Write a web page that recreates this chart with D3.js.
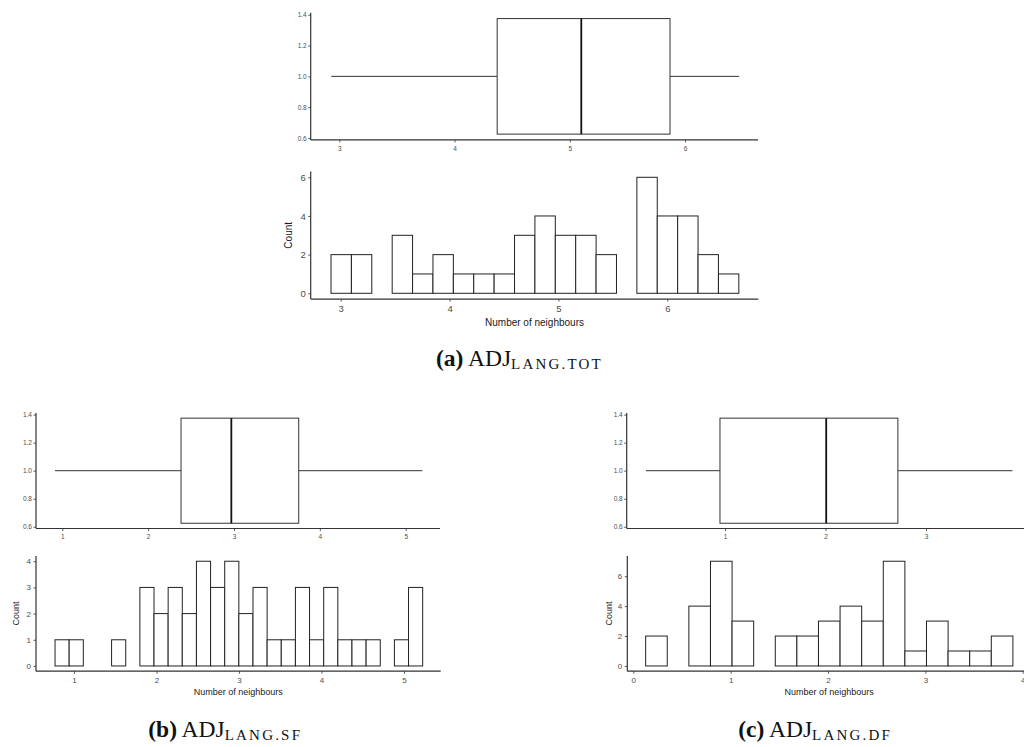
<!DOCTYPE html>
<html>
<head>
<meta charset="utf-8">
<script src="https://cdn.jsdelivr.net/npm/d3@7"></script>
<style>
  html, body { margin: 0; padding: 0; background: #fff; }
  svg { display: block; }
</style>
</head>
<body>
<svg id="chart" width="1024" height="747"></svg>
<script>
// ---------------- DATA ----------------
// Box statistics: [lower whisker, Q1, median, Q3, upper whisker]
const boxStatsA = [2.93, 4.37, 5.10, 5.87, 6.47];
const boxStatsB = [0.915, 2.383, 2.969, 3.754, 5.194];
const boxStatsC = [0.214, 0.95, 2.007, 2.72, 3.86];

// Histogram counts per bin
const histCountsA = [2, 2, 0, 3, 1, 2, 1, 1, 1, 3, 4, 3, 3, 2, 0, 6, 4, 4, 2, 1];
const histCountsB = [1, 1, 0, 0, 1, 0, 3, 2, 3, 2, 4, 3, 4, 2, 3, 1, 1, 3, 1, 3, 1, 1, 1, 0, 1, 3];
const histCountsC = [2, 0, 4, 7, 3, 0, 2, 2, 3, 4, 3, 7, 1, 3, 1, 1, 2];

// Histogram bin start and width (in data units)
const histBinStartA = 2.911, histBinWidthA = 0.1873;
const histBinStartB = 0.770, histBinWidthB = 0.1714;
const histBinStartC = 0.127, histBinWidthC = 0.2219;

// Tick labels
const boxYTicks = [0.6, 0.8, 1.0, 1.2, 1.4];
const boxXTicksA = [3, 4, 5, 6];
const boxXTicksB = [1, 2, 3, 4, 5];
const boxXTicksC = [1, 2, 3];
const histXTicksA = [3, 4, 5, 6];
const histXTicksB = [1, 2, 3, 4, 5];
const histXTicksC = [0, 1, 2, 3, 4];
const histYTicksA = [0, 2, 4, 6];
const histYTicksB = [0, 1, 2, 3, 4];
const histYTicksC = [0, 2, 4, 6];

const boxYDomain = [0.5875, 1.4125];
const histYDomainA = [-0.3, 6.3];
const histYDomainB = [-0.2, 4.2];
const histYDomainC = [-0.35, 7.35];

const xTitle = "Number of neighbours";
const yTitle = "Count";
const captions = [
  { tag: "(a)", main: "ADJ", sub: "LANG.TOT" },
  { tag: "(b)", main: "ADJ", sub: "LANG.SF" },
  { tag: "(c)", main: "ADJ", sub: "LANG.DF" }
];

// ---------------- LAYOUT ----------------
const svg = d3.select("#chart");
const AXIS_COL = "#333333";
const TICK_TXT = "#4d4d4d";
const SANS = "'Liberation Sans', Arial, sans-serif";
const SERIF = "'Liberation Serif', 'Times New Roman', serif";

// x scale anchored on two tick positions (pixels) -> domain extended to panel edges
function xScaleFrom(v0, p0, v1, p1, left, right) {
  const s = d3.scaleLinear().domain([v0, v1]).range([p0, p1]);
  return d3.scaleLinear().domain([s.invert(left), s.invert(right)]).range([left, right]);
}

function drawAxes(g, x, y, L, R, T, B, xTicks, yTicks, fs, yfmt, pad) {
  g.append("line").attr("x1", L).attr("x2", R).attr("y1", B).attr("y2", B)
    .attr("stroke", AXIS_COL).attr("stroke-width", 1.2);
  g.append("line").attr("x1", L).attr("x2", L).attr("y1", T).attr("y2", B)
    .attr("stroke", AXIS_COL).attr("stroke-width", 1.2);

  const xa = g.append("g").attr("transform", `translate(0,${B})`)
    .call(d3.axisBottom(x).tickValues(xTicks).tickSize(2.5).tickPadding(pad.x).tickFormat(d3.format("d")));
  const ya = g.append("g").attr("transform", `translate(${L},0)`)
    .call(d3.axisLeft(y).tickValues(yTicks).tickSize(2.5).tickPadding(pad.y).tickFormat(yfmt));
  [xa, ya].forEach(a => {
    a.select(".domain").remove();
    a.selectAll(".tick line").attr("stroke", AXIS_COL).attr("stroke-width", 0.8);
    a.selectAll(".tick text").attr("fill", TICK_TXT).style("font-family", SANS).style("font-size", fs + "px");
  });
}

function drawBox(p, stats) {
  const g = svg.append("g");
  const x = xScaleFrom(p.t0, p.p0, p.t1, p.p1, p.L, p.R);
  const y = d3.scaleLinear().domain(boxYDomain).range([p.B, p.T]);
  drawAxes(g, x, y, p.L, p.R, p.T, p.B, p.xTicks, boxYTicks, p.fs, d3.format(".1f"), { x: 3.5, y: 1.5 });
  const [lw, q1, med, q3, uw] = stats;
  const ym = y(1.0);
  g.append("line").attr("x1", x(lw)).attr("x2", x(q1)).attr("y1", ym).attr("y2", ym)
    .attr("stroke", AXIS_COL).attr("stroke-width", 1);
  g.append("line").attr("x1", x(q3)).attr("x2", x(uw)).attr("y1", ym).attr("y2", ym)
    .attr("stroke", AXIS_COL).attr("stroke-width", 1);
  g.append("rect").attr("x", x(q1)).attr("y", y(1.375))
    .attr("width", x(q3) - x(q1)).attr("height", y(0.625) - y(1.375))
    .attr("fill", "#fff").attr("stroke", AXIS_COL).attr("stroke-width", 1);
  g.append("line").attr("x1", x(med)).attr("x2", x(med)).attr("y1", y(1.375)).attr("y2", y(0.625))
    .attr("stroke", "#111").attr("stroke-width", 1.8);
}

function drawHist(p, counts, start, width) {
  const g = svg.append("g");
  const x = xScaleFrom(p.t0, p.p0, p.t1, p.p1, p.L, p.R);
  const y = d3.scaleLinear().domain(p.yDom).range([p.B, p.T]);
  drawAxes(g, x, y, p.L, p.R, p.T, p.B, p.xTicks, p.yTicks, p.fs, d3.format("d"), { x: 3.5, y: 2.5 });
  const bins = counts.map((c, i) => ({ x0: start + i * width, x1: start + (i + 1) * width, c }));
  g.selectAll("rect.bar").data(bins).join("rect").attr("class", "bar")
    .attr("x", d => x(d.x0)).attr("y", d => y(d.c))
    .attr("width", d => x(d.x1) - x(d.x0)).attr("height", d => y(0) - y(d.c))
    .attr("fill", "#fff").attr("stroke", "#222").attr("stroke-width", 1);
  g.append("text").attr("x", (p.L + p.R) / 2 + p.titleDx).attr("y", p.titleY)
    .attr("text-anchor", "middle").style("font-family", SANS).style("font-size", p.tfs + "px")
    .attr("fill", "#1a1a1a").text(xTitle);
  g.append("text").attr("transform", `translate(${p.countX},${(p.T + p.B) / 2}) rotate(-90)`)
    .attr("text-anchor", "middle").style("font-family", SANS).style("font-size", p.tfs + "px")
    .attr("fill", "#1a1a1a").text(yTitle);
}

function drawCaption(c, xPos, yPos) {
  const t = svg.append("text").attr("x", xPos).attr("y", yPos)
    .style("font-family", SERIF).style("font-size", "23.5px").attr("fill", "#111");
  t.append("tspan").style("font-weight", "bold").text(c.tag);
  t.append("tspan").text(" " + c.main);
  t.append("tspan").attr("dy", 3).style("font-size", "15px").style("letter-spacing", "2.2px").text(c.sub);
}

// Panel (a)
drawBox({ L: 310.7, R: 758, T: 12.8, B: 139.9, t0: 3, p0: 339.3, t1: 6, p1: 685, xTicks: boxXTicksA, fs: 6.5 }, boxStatsA);
drawHist({ L: 310.7, R: 758.3, T: 171.5, B: 299.1, t0: 3, p0: 340.7, t1: 6, p1: 667.3,
  xTicks: histXTicksA, yTicks: histYTicksA, yDom: histYDomainA, fs: 9.5, tfs: 10,
  titleY: 325.5, titleDx: 0, countX: 292 }, histCountsA, histBinStartA, histBinWidthA);

// Panel (b)
drawBox({ L: 36, R: 440, T: 412.9, B: 528.5, t0: 1, p0: 62.3, t1: 5, p1: 405.7, xTicks: boxXTicksB, fs: 6.5 }, boxStatsB);
drawHist({ L: 36, R: 440.7, T: 556, B: 671.2, t0: 1, p0: 74, t1: 5, p1: 404,
  xTicks: histXTicksB, yTicks: histYTicksB, yDom: histYDomainB, fs: 8, tfs: 9,
  titleY: 694.8, titleDx: 0, countX: 19 }, histCountsB, histBinStartB, histBinWidthB);

// Panel (c)
drawBox({ L: 626.7, R: 1031, T: 412.9, B: 528.5, t0: 1, p0: 725, t1: 3, p1: 926, xTicks: boxXTicksC, fs: 6.5 }, boxStatsC);
drawHist({ L: 627.3, R: 1031, T: 556, B: 671.2, t0: 0, p0: 633.3, t1: 4, p1: 1022.7,
  xTicks: histXTicksC, yTicks: histYTicksC, yDom: histYDomainC, fs: 8, tfs: 9,
  titleY: 694.8, titleDx: 0, countX: 612 }, histCountsC, histBinStartC, histBinWidthC);

// Captions
drawCaption(captions[0], 436, 365.7);
drawCaption(captions[1], 148.3, 736.7);
drawCaption(captions[2], 738.3, 736.7);
</script>
</body>
</html>
